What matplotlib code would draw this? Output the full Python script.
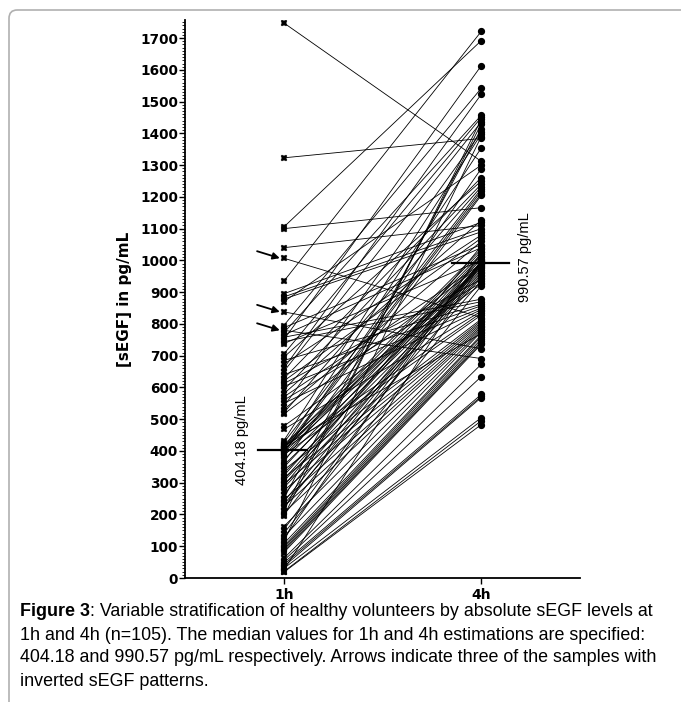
import matplotlib
matplotlib.use("Agg")
import matplotlib.pyplot as plt
from matplotlib.patches import FancyBboxPatch
from matplotlib.ticker import MultipleLocator

# sEGF at 1h (pg/mL), one entry per volunteer
segf_1h = [1748, 1323, 1105, 1100, 1040, 1007, 934, 895, 885, 878,
           870, 838, 795, 788, 780, 772, 765, 758, 750, 744,
           738, 705, 695, 685, 673, 660, 650, 640, 628, 620,
           612, 603, 592, 580, 570, 560, 550, 540, 530, 520,
           516, 478, 468, 432, 426, 420, 416, 413, 410, 408,
           406, 405, 404.18, 402, 398, 395, 392, 388, 385, 372,
           365, 355, 348, 340, 330, 322, 315, 310, 305, 296,
           290, 284, 275, 262, 250, 246, 240, 232, 225, 222,
           212, 205, 198, 194, 162, 152, 140, 130, 122, 115,
           108, 100, 95, 90, 85, 80, 62, 55, 48, 42,
           36, 30, 25, 20, 18]
# sEGF at 4h (pg/mL), same volunteer order
segf_4h = [1312, 1384, 1692, 1166, 1110, 820, 1721, 1120, 1100, 1090,
           1300, 722, 1542, 1050, 691, 1457, 1040, 878, 1613, 870,
           1000, 1450, 1250, 862, 1080, 1523, 1436, 857, 1261, 1070,
           940, 850, 1240, 1126, 988, 930, 845, 1405, 1060, 1232,
           985, 925, 840, 1398, 1225, 982, 770, 1035, 978, 1354,
           1218, 835, 975, 1028, 1210, 970, 1289, 828, 1020, 965,
           1205, 960, 1015, 815, 955, 1010, 810, 1005, 950, 805,
           1045, 945, 800, 998, 1415, 795, 997, 935, 790, 995,
           1430, 785, 993, 1444, 780, 992, 920, 775, 1025, 1390,
           765, 760, 752, 745, 740, 736, 673, 634, 578, 572,
           568, 505, 990.57, 495, 483]

time_labels = ["1h", "4h"]
median_1h = 404.18
median_4h = 990.57
inverted_1h = [1007, 838, 780]
y_ticks = list(range(0, 1800, 100))

fig = plt.figure(figsize=(6.81, 7.02), dpi=100)

# rounded frame
frame = FancyBboxPatch((9 / 681, -0.2), 1.2, 1.2 - 10 / 702,
                       boxstyle="round,pad=0,rounding_size=0.012",
                       transform=fig.transFigure, fill=False,
                       edgecolor="#b0b0b0", linewidth=1.2)
fig.patches.append(frame)

ax = fig.add_axes([185 / 681, 124 / 702, 395 / 681, 558 / 702])
x1, x2 = 1, 2
for a, b in zip(segf_1h, segf_4h):
    ax.plot([x1, x2], [a, b], color="black", lw=0.6, zorder=2)
ax.plot([x1] * len(segf_1h), segf_1h, linestyle="none", marker="X",
        markersize=4.5, color="black", markeredgewidth=0.3, zorder=3)
ax.plot([x2] * len(segf_4h), segf_4h, linestyle="none", marker="o",
        markersize=4.2, color="black", zorder=3)

# median bars
ax.plot([x1 - 0.13, x1 + 0.12], [median_1h, median_1h], color="black", lw=1.6, zorder=4)
ax.plot([x2 - 0.15, x2 + 0.14], [median_4h, median_4h], color="black", lw=1.6, zorder=4)
ax.text(x1 - 0.21, 433, f"{median_1h:.2f} pg/mL", rotation=90, ha="center",
        va="center", fontsize=10.5, family="Liberation Sans")
ax.text(x2 + 0.22, 1011, f"{median_4h:.2f} pg/mL", rotation=90, ha="center",
        va="center", fontsize=10.5, family="Liberation Sans")

for v in inverted_1h:
    ax.annotate("", xy=(x1 - 0.02, v), xytext=(x1 - 0.135, v + 22),
                arrowprops=dict(arrowstyle="-|>", color="black", lw=1.3,
                                mutation_scale=10, shrinkA=0, shrinkB=0))

ax.set_xlim(0.5, 2.5)
ax.set_ylim(0, 1757)
ax.set_xticks([x1, x2])
ax.set_xticklabels(time_labels, fontsize=10, fontweight="bold", family="DejaVu Sans")
ax.set_yticks(y_ticks)
ax.set_yticklabels([str(t) for t in y_ticks], fontsize=9.8, fontweight="bold",
                   family="DejaVu Sans")
ax.yaxis.set_minor_locator(MultipleLocator(10))
ax.tick_params(axis="y", which="major", length=4, width=1, pad=1)
ax.tick_params(axis="y", which="minor", length=2, width=0.6)
ax.tick_params(axis="x", which="major", length=4, width=1, pad=3)
for s in ["top", "right"]:
    ax.spines[s].set_visible(False)
for s in ["left", "bottom"]:
    ax.spines[s].set_linewidth(1.3)
ax.set_ylabel("[sEGF] in pg/mL", fontsize=11, fontweight="bold",
              family="DejaVu Sans", labelpad=6)

# caption
cap_fs = 12.9
fam = ["Liberation Sans", "DejaVu Sans"]
x0 = 20 / 681
t_bold = fig.text(x0, 1 - 612 / 702, "Figure 3", fontsize=cap_fs, fontweight="bold",
                  family=fam, va="center", ha="left")
fig.canvas.draw()
bb = t_bold.get_window_extent()
fig.text(bb.x1 / fig.bbox.width, 1 - 612 / 702,
         ": Variable stratification of healthy volunteers by absolute sEGF levels at",
         fontsize=cap_fs, family=fam, va="center", ha="left")
cap_lines = ["1h and 4h (n=105). The median values for 1h and 4h estimations are specified:",
             "404.18 and 990.57 pg/mL respectively. Arrows indicate three of the samples with",
             "inverted sEGF patterns."]
for i, line in enumerate(cap_lines):
    fig.text(x0, 1 - (635 + 23 * i) / 702, line, fontsize=cap_fs, family=fam,
             va="center", ha="left")

fig.savefig("out.png", dpi=100)
